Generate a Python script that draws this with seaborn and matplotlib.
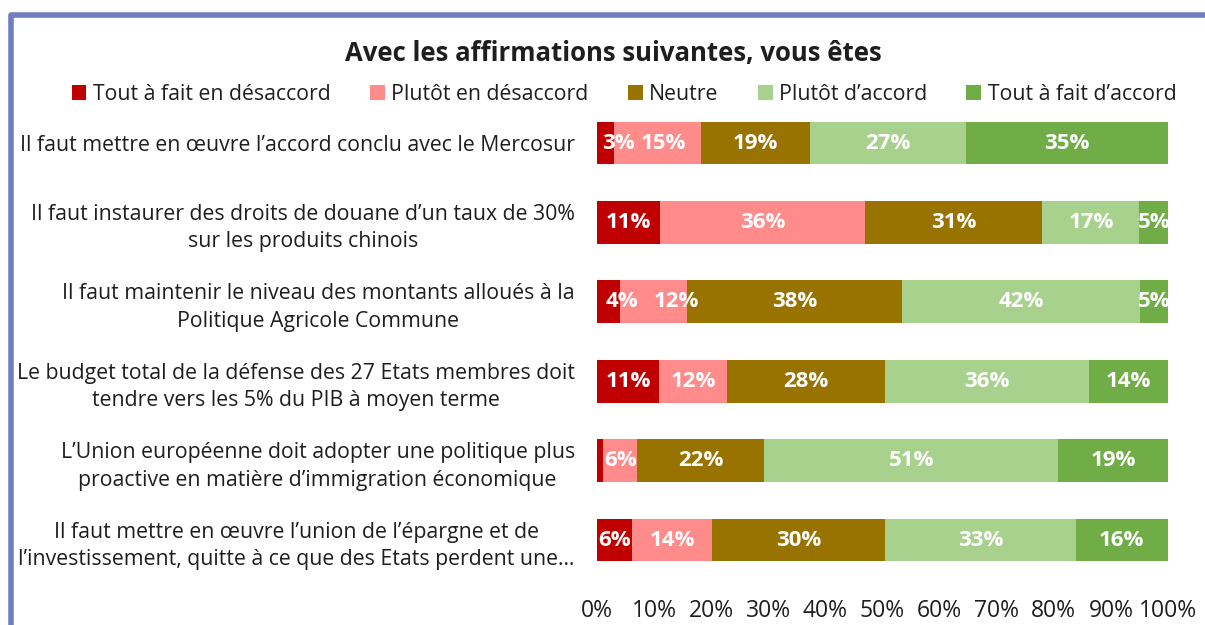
import numpy as np
import pandas as pd
import matplotlib
matplotlib.use("Agg")
import matplotlib.pyplot as plt
from matplotlib.patches import Patch
from matplotlib.lines import Line2D
from matplotlib.ticker import FuncFormatter
import seaborn as sns

# ---- data ---------------------------------------------------------------
questions = [
    "Il faut mettre en œuvre l’accord conclu avec le Mercosur",
    "Il faut instaurer des droits de douane d’un taux de 30%\nsur les produits chinois",
    "Il faut maintenir le niveau des montants alloués à la\nPolitique Agricole Commune",
    "Le budget total de la défense des 27 Etats membres doit\ntendre vers les 5% du PIB à moyen terme",
    "L’Union européenne doit adopter une politique plus\nproactive en matière d’immigration économique",
    "Il faut mettre en œuvre l’union de l’épargne et de\nl’investissement, quitte à ce que des Etats perdent une…",
]
responses = [
    "Tout à fait en désaccord",
    "Plutôt en désaccord",
    "Neutre",
    "Plutôt d’accord",
    "Tout à fait d’accord",
]
tout_desaccord = [3, 11, 4, 11, 1, 6]
plutot_desaccord = [15, 36, 12, 12, 6, 14]
neutre = [19, 31, 38, 28, 22, 30]
plutot_accord = [27, 17, 42, 36, 51, 33]
tout_accord = [35, 5, 5, 14, 19, 16]
title = "Avec les affirmations suivantes, vous êtes"

# ---- styling --------------------------------------------------------------
colors = ["#C00000", "#FF8B8B", "#997300", "#A9D18E", "#70AD47"]
text_color = "#1E1E1E"
border_color = "#6E7EBE"
# small horizontal nudges (in % units) for labels of narrow segments
label_nudge = {(0, 0): 2.3, (0, 1): 1.0, (2, 0): 2.3, (2, 1): 4.0}

sns.set_theme(style="white")
plt.rcParams["font.family"] = ["Open Sans", "DejaVu Sans"]

values = pd.DataFrame(
    np.column_stack([tout_desaccord, plutot_desaccord, neutre,
                     plutot_accord, tout_accord]),
    index=questions, columns=responses,
)
# 100% stacked: each row is scaled to its own total
shares = values.div(values.sum(axis=1), axis=0) * 100
cum = shares.cumsum(axis=1)

W, H = 1205, 625
fig = plt.figure(figsize=(W / 100, H / 100), dpi=100)
ax = fig.add_axes([597 / W, 1 - 579.7 / H, 571 / W, 476.4 / H])

# draw the cumulative layers from the rightmost one down so they stack
for k in reversed(range(len(responses))):
    sns.barplot(x=cum.iloc[:, k].values, y=questions, orient="h",
                color=colors[k], saturation=1, width=0.54,
                linewidth=0, ax=ax)

# value labels inside the segments
for i in range(len(questions)):
    for k in range(len(responses)):
        v = values.iloc[i, k]
        if v < 2:
            continue
        start = cum.iloc[i, k] - shares.iloc[i, k]
        xc = start + shares.iloc[i, k] / 2 + label_nudge.get((i, k), 0)
        ax.text(xc, i, f"{v}%", ha="center", va="center", color="white",
                fontsize=16, fontweight="bold")

ax.set_xlim(0, 100)
ax.set_ylim(len(questions) - 0.5, -0.5)
ax.set_xticks(np.arange(0, 101, 10))
ax.xaxis.set_major_formatter(FuncFormatter(lambda x, _: f"{x:.0f}%"))
ax.tick_params(axis="x", length=0, pad=14, labelsize=16.5, labelcolor=text_color)
ax.tick_params(axis="y", length=0, pad=16, labelsize=15.3, labelcolor=text_color)
for lab in ax.get_yticklabels():
    lab.set_multialignment("center")
    lab.set_linespacing(1.4)
ax.set_xlabel("")
ax.set_ylabel("")
for s in ax.spines.values():
    s.set_visible(False)
ax.grid(False)

fig.text(613 / W, 1 - 54 / H, title, ha="center", va="center",
         fontsize=18.5, fontweight="bold", color=text_color)

handles = [Patch(facecolor=c, edgecolor="none") for c in colors]
fig.legend(handles, responses, loc="center",
           bbox_to_anchor=(624 / W, 1 - 94 / H), ncol=5, frameon=False,
           fontsize=15.3, handlelength=0.7, handleheight=0.7,
           handletextpad=0.3, columnspacing=1.85, labelcolor=text_color)

# chart frame (left and top edges visible)
fig.add_artist(Line2D([10.5 / W, 10.5 / W, 1.02], [-0.05, 1 - 14.5 / H, 1 - 14.5 / H],
                      transform=fig.transFigure, color=border_color, lw=4,
                      solid_joinstyle="round", solid_capstyle="butt"))

fig.savefig("out.png", dpi=100, facecolor="white")
